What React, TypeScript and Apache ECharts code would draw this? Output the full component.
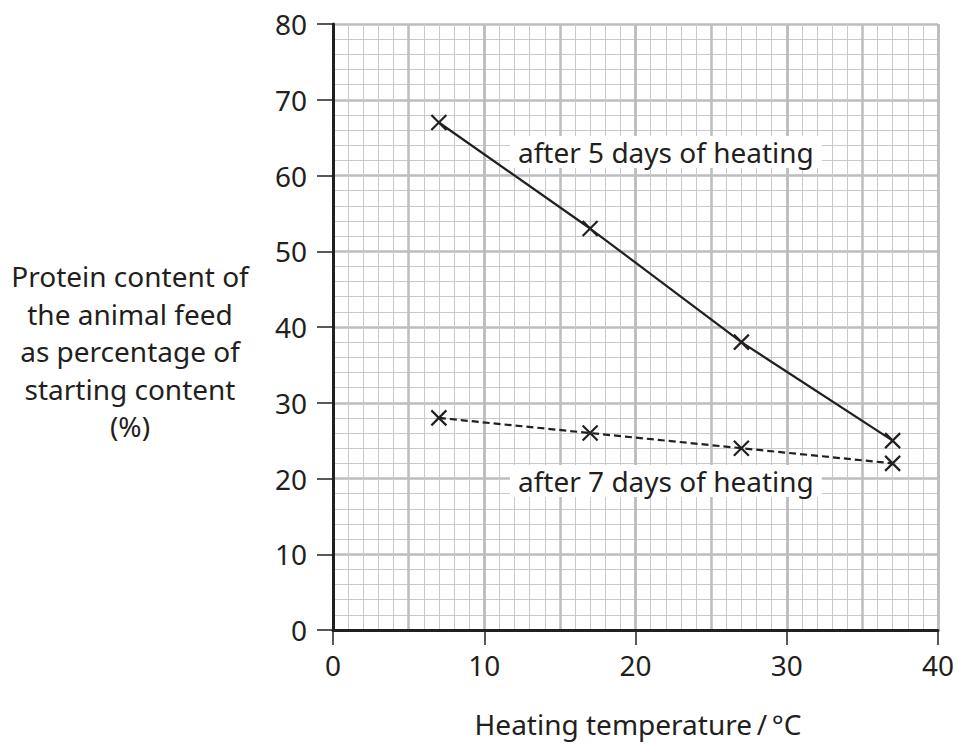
import React, { useEffect, useRef } from "react";
import * as echarts from "echarts";

const temperatures = [7, 17, 27, 37];
const protein5Days = [67, 53, 38, 25];
const protein7Days = [28, 26, 24, 22];
const label5Days = "after 5 days of heating";
const label7Days = "after 7 days of heating";
const yAxisTitleLines = [
  "Protein content of",
  "the animal feed",
  "as percentage of",
  "starting content",
  "(%)",
];
const xAxisTitle = "Heating temperature\u2009/\u2009°C";

const INK = "#231f20";
const FONT = "'Noto Sans', 'Open Sans', sans-serif";
const CROSS = "path://M0,0L10,10M10,0L0,10";

export default function App() {
  const ref = useRef<HTMLDivElement>(null);
  useEffect(() => {
    if (!ref.current) return;
    const chart = echarts.init(ref.current, null, { renderer: "svg" });
    const majorLine = { color: "#bdbdbd", width: 2.5 };
    const minorLine = { color: "#c9c9c9", width: 1 };
    const seriesCommon = {
      type: "line" as const,
      symbol: CROSS,
      symbolSize: 15,
      itemStyle: { color: INK, borderColor: INK, borderWidth: 2.2 },
      z: 5,
    };
    chart.setOption({
      animation: false,
      backgroundColor: "#ffffff",
      grid: { left: 333, top: 24, right: 20, bottom: 114, containLabel: false },
      xAxis: [
        {
          type: "value",
          min: 0,
          max: 40,
          interval: 10,
          position: "bottom",
          axisLine: { show: true, onZero: false, lineStyle: { color: INK, width: 3 } },
          axisTick: { show: true, length: 15, lineStyle: { color: INK, width: 1.5 } },
          axisLabel: { margin: 21, fontSize: 28, color: INK, fontFamily: FONT },
          splitLine: { show: true, lineStyle: majorLine },
          minorTick: { show: false, splitNumber: 10 },
          minorSplitLine: { show: true, lineStyle: minorLine },
        },
        {
          type: "value",
          min: 0,
          max: 40,
          interval: 5,
          position: "top",
          axisLine: { show: false },
          axisTick: { show: false },
          axisLabel: { show: false },
          splitLine: { show: true, lineStyle: majorLine },
        },
      ],
      yAxis: {
        type: "value",
        min: 0,
        max: 80,
        interval: 10,
        axisLine: { show: true, onZero: false, lineStyle: { color: INK, width: 3 } },
        axisTick: { show: true, length: 16, lineStyle: { color: INK, width: 1.5 } },
        axisLabel: { margin: 26, fontSize: 28, color: INK, fontFamily: FONT },
        splitLine: { show: true, lineStyle: majorLine },
        minorTick: { show: false, splitNumber: 5 },
        minorSplitLine: { show: true, lineStyle: minorLine },
      },
      series: [
        {
          ...seriesCommon,
          name: label5Days,
          data: temperatures.map((t, i) => [t, protein5Days[i]]),
          lineStyle: { color: INK, width: 2.2 },
        },
        {
          ...seriesCommon,
          name: label7Days,
          data: temperatures.map((t, i) => [t, protein7Days[i]]),
          lineStyle: { color: INK, width: 2.2, type: [7, 4] },
        },
      ],
      graphic: [
        {
          type: "text",
          left: 510,
          top: 136,
          z: 20,
          style: {
            text: label5Days,
            fontSize: 28,
            fontFamily: FONT,
            fill: INK,
            backgroundColor: "#ffffff",
            padding: [2, 8, 2, 8],
          },
        },
        {
          type: "text",
          left: 510,
          top: 465,
          z: 20,
          style: {
            text: label7Days,
            fontSize: 28,
            fontFamily: FONT,
            fill: INK,
            backgroundColor: "#ffffff",
            padding: [2, 8, 2, 8],
          },
        },
        {
          type: "text",
          x: 130,
          y: 351,
          z: 20,
          style: {
            text: yAxisTitleLines.join("\n"),
            fontSize: 28,
            lineHeight: 37.5,
            fontFamily: FONT,
            fill: INK,
            align: "center",
            verticalAlign: "middle",
          },
        },
        {
          type: "text",
          x: 638,
          y: 724,
          z: 20,
          style: {
            text: xAxisTitle,
            fontSize: 28,
            fontFamily: FONT,
            fill: INK,
            align: "center",
            verticalAlign: "middle",
          },
        },
      ],
    });
    return () => chart.dispose();
  }, []);
  return (
    <div
      ref={ref}
      style={{ position: "fixed", left: 0, top: 0, width: 958, height: 744, background: "#fff" }}
    />
  );
}
